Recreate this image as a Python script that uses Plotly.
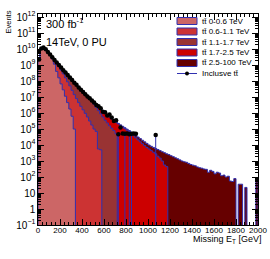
import numpy as np
import plotly.graph_objects as go

# ---------------- data ----------------
# Missing E_T histogram: 100 bins of 20 GeV between 0 and 2000 GeV
met_lo, met_hi, bin_width = 0, 2000, 20

# log10(events) at the top of each stacked level (None = empty bin)
# level 5: all samples (tt 0-100 TeV)
stack_total = [
    9.35, 10.02, 10.1, 9.98, 9.82, 9.65, 9.48, 9.32, 9.16, 9.0,
    8.84, 8.68, 8.52, 8.37, 8.22, 8.05, 7.9, 7.75, 7.6, 7.45,
    7.31, 7.17, 7.04, 6.91, 6.78, 6.65, 6.52, 6.4, 6.27, 6.14,
    6.01, 5.89, 5.77, 5.66, 5.55, 5.45, 5.35, 5.26, 5.17, 5.08,
    4.99, 4.9, 4.8, 4.7, 4.6, 4.5, 4.4, 4.3, 4.2, 4.1,
    4.0, 3.92, 3.85, 3.78, 3.72, 3.65, 3.58, 3.52, 3.45, 3.4,
    3.33, 3.27, 3.2, 3.14, 3.07, 3.0, 2.95, 2.92, 2.85, 2.78,
    2.74, 2.7, 2.63, 2.58, 2.55, 2.5, 2.48, 2.3, 2.42, 2.35,
    2.2, 2.3, 2.25, 2.08, 2.12, 2.0, 2.05, 1.75, 1.72, 1.9,
    None, 1.55, 1.55, None, 1.35, None, None, None, None, 1.9,
]
# level 4: tt 0-0.6 + 0.6-1.1 + 1.1-1.7 + 1.7-2.5 TeV
stack_upto_2p5 = [
    9.35, 10.02, 10.1, 9.98, 9.82, 9.65, 9.48, 9.32, 9.16, 9.0,
    8.84, 8.68, 8.52, 8.37, 8.22, 8.05, 7.9, 7.75, 7.6, 7.45,
    7.31, 7.17, 7.04, 6.91, 6.78, 6.64, 6.51, 6.38, 6.25, 6.12,
    5.99, 5.87, 5.75, 5.63, 5.52, 5.42, 5.32, 5.22, 5.12, 5.02,
    4.92, 4.82, 4.7, 4.58, 4.45, 4.32, 4.2, 4.08, 3.96, 3.85,
    3.75, 3.65, 3.55, 3.45, 3.3, 3.18, 3.0, 2.75, 2.65,
]
# level 3: tt 0-0.6 + 0.6-1.1 + 1.1-1.7 TeV
stack_upto_1p7 = [
    9.35, 10.02, 10.1, 9.98, 9.82, 9.65, 9.48, 9.32, 9.16, 9.0,
    8.84, 8.68, 8.52, 8.37, 8.22, 8.05, 7.9, 7.75, 7.6, 7.45,
    7.31, 7.17, 7.04, 6.9, 6.75, 6.55, 6.35, 6.15, 5.95, 5.75,
    5.55, 5.38, 5.2, 5.05, 4.9, 4.7,
]
# level 2: tt 0-0.6 + 0.6-1.1 TeV
stack_upto_1p1 = [
    9.35, 10.02, 10.1, 9.98, 9.82, 9.65, 9.48, 9.3, 9.1, 8.9,
    8.68, 8.45, 8.2, 7.95, 7.7, 7.42, 7.15, 6.9, 6.65, 6.42,
    6.2, 5.98, 5.75, 5.5, 5.25, 5.0, 4.85, 3.75, 3.7,
]
# level 1: tt 0-0.6 TeV
stack_upto_0p6 = [
    9.35, 10.02, 10.1, 9.97, 9.8, 9.6, 9.38, 9.05, 8.6, 8.2,
    7.82, 7.45, 7.05, 6.65, 6.25, 5.8, 5.0,
]
# inclusive tt sample, log10(events) per bin (None = no entry)
inclusive = [
    9.35, 10.03, 10.1, 9.98, 9.82, 9.66, 9.48, 9.32, 9.16, 9.0,
    8.84, 8.68, 8.53, 8.37, 8.22, 8.06, 7.9, 7.76, 7.6, 7.46,
    7.31, 7.18, 7.04, 6.92, 6.78, 6.66, 6.5, 6.42, 6.3, 6.08,
    6.05, 5.85, 5.9, 5.72, 5.5, 5.55, 4.68, 5.1, 4.72, 4.7,
    4.72, 4.68, 4.7, 4.72, 4.7, None, None, None, None, None,
    None, None, None, 4.62,
]
# bins of the inclusive sample holding a single event (error bar reaches 0)
inclusive_single_event_bins = [36, 39, 41, 42, 53]

samples = ["tt̄ 0-0.6 TeV", "tt̄ 0.6-1.1 TeV", "tt̄ 1.1-1.7 TeV",
           "tt̄ 1.7-2.5 TeV", "tt̄ 2.5-100 TeV"]
inclusive_name = "Inclusve tt̄"

# ---------------- styling ----------------
fill_colors = ["#cc6666", "#cc3333", "#993333", "#cc0000", "#660000"]
outline = "#3030b0"
FONT = "Liberation Sans, Arial, sans-serif"
FLOOR = 1e-3  # below the visible range: empty bins drop to the axis

edges = np.arange(met_lo, met_hi + bin_width, bin_width)
n_bins = len(edges) - 1
centers = 0.5 * (edges[:-1] + edges[1:])


def to_events(levels):
    v = np.full(n_bins, FLOOR)
    for i, lv in enumerate(levels):
        if lv is not None:
            v[i] = 10.0 ** lv
    return v


def step_outline(vals):
    xs, ys = [edges[0]], [FLOOR]
    for i in range(n_bins):
        xs += [edges[i], edges[i + 1]]
        ys += [vals[i], vals[i]]
    xs.append(edges[-1])
    ys.append(FLOOR)
    return xs, ys


levels = [stack_upto_0p6, stack_upto_1p1, stack_upto_1p7, stack_upto_2p5, stack_total]
level_vals = [to_events(l) for l in levels]
# keep the stack ordered
for k in range(1, len(level_vals)):
    level_vals[k] = np.maximum(level_vals[k], level_vals[k - 1])

fig = go.Figure()
# draw the highest level first, the lowest on top
for k in reversed(range(len(level_vals))):
    xs, ys = step_outline(level_vals[k])
    fig.add_trace(go.Scatter(
        x=xs, y=ys, mode="lines", fill="toself", fillcolor=fill_colors[k],
        line=dict(color=outline, width=1), hoverinfo="skip", showlegend=False,
    ))

inc_x, inc_y, err_minus = [], [], []
for i, lv in enumerate(inclusive):
    if lv is None:
        continue
    y = 10.0 ** lv
    inc_x.append(centers[i])
    inc_y.append(y)
    err_minus.append(y - FLOOR if i in inclusive_single_event_bins else 0.0)

fig.add_trace(go.Scatter(
    x=inc_x, y=inc_y, mode="markers",
    marker=dict(color="black", size=4.5, line=dict(width=0)),
    error_y=dict(type="data", symmetric=False, array=[0.0] * len(inc_y),
                 arrayminus=err_minus, color=outline, thickness=1, width=0),
    showlegend=False, hoverinfo="skip",
))

# ---------------- layout ----------------
L, R, T, B = 38, 12, 14, 34
W, H = 270, 259
pw, ph = W - L - R, H - T - B


def px_x(px):
    return (px - L) / pw


def px_y(py):
    return (H - B - py) / ph


fig.update_layout(
    width=W, height=H, margin=dict(l=L, r=R, t=T, b=B, autoexpand=False),
    paper_bgcolor="white", plot_bgcolor="white", showlegend=False,
    font=dict(family=FONT, size=8, color="black"),
)
fig.update_xaxes(
    range=[met_lo, met_hi], tickmode="linear", tick0=0, dtick=200,
    ticks="inside", ticklen=6, tickwidth=1, tickcolor="black",
    showline=True, linecolor="black", linewidth=1, mirror="ticks",
    showgrid=False, zeroline=False, tickfont=dict(size=8, family=FONT),
    ticklabelstandoff=-3, automargin=False,
    minor=dict(ticks="inside", ticklen=3, dtick=40, tickcolor="black", showgrid=False),
)
fig.update_yaxes(
    type="log", range=[-1, 12.19], tickmode="linear", tick0=0, dtick=1,
    exponentformat="power",
    ticks="inside", ticklen=6, tickwidth=1, tickcolor="black",
    showline=True, linecolor="black", linewidth=1, mirror="ticks",
    showgrid=False, zeroline=False, tickfont=dict(size=8, family=FONT),
    automargin=False,
    minor=dict(ticks="inside", ticklen=3, dtick="D1", tickcolor="black", showgrid=False),
)

ann = [
    dict(text="300 fb<sup>-1</sup>", x=px_x(44), y=px_y(23), xanchor="left",
         yanchor="middle", font=dict(size=11)),
    dict(text="14TeV, 0 PU", x=px_x(44), y=px_y(42), xanchor="left",
         yanchor="middle", font=dict(size=11)),
    dict(text="Events", x=px_x(8), y=px_y(9), xanchor="center", yanchor="top",
         textangle=-90, font=dict(size=7.5)),
    dict(text="Missing E<sub>T</sub> [GeV]", x=px_x(263), y=px_y(239),
         xanchor="right", yanchor="middle", font=dict(size=9)),
]
shapes = []
row_y = [21, 31.5, 42, 52.5, 63, 73.5]
box_x0, box_x1, text_x = 177, 197, 200
for k, name in enumerate(samples):
    yc = row_y[k]
    shapes.append(dict(type="rect", xref="paper", yref="paper",
                       x0=px_x(box_x0), x1=px_x(box_x1), y0=px_y(yc + 3.5), y1=px_y(yc - 3.5),
                       fillcolor=fill_colors[k], line=dict(color=outline, width=1)))
    ann.append(dict(text=name, x=px_x(text_x), y=px_y(yc), xanchor="left",
                    yanchor="middle", font=dict(size=8)))
yc = row_y[5]
shapes.append(dict(type="line", xref="paper", yref="paper", x0=px_x(box_x0), x1=px_x(box_x1),
                   y0=px_y(yc), y1=px_y(yc), line=dict(color=outline, width=1)))
shapes.append(dict(type="circle", xref="paper", yref="paper",
                   x0=px_x((box_x0 + box_x1) / 2 - 2), x1=px_x((box_x0 + box_x1) / 2 + 2),
                   y0=px_y(yc + 2), y1=px_y(yc - 2), fillcolor="black", line=dict(width=0)))
ann.append(dict(text=inclusive_name, x=px_x(text_x), y=px_y(yc), xanchor="left",
                yanchor="middle", font=dict(size=8)))

for a in ann:
    a.update(xref="paper", yref="paper", showarrow=False)
fig.update_layout(annotations=ann, shapes=shapes)

# the page's default body margin would shift the figure; remove it
fig.write_html("out.html", config={"displayModeBar": False, "staticPlot": True},
               post_script="document.body.style.margin='0';")
